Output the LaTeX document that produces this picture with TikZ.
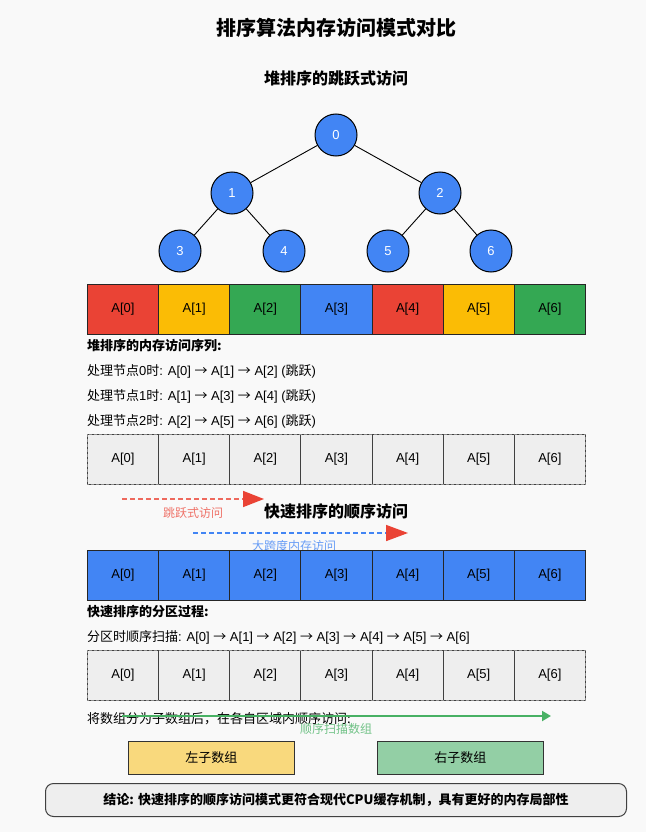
\documentclass[tikz,border=0pt]{standalone}
\usepackage{fontspec}
\setmainfont{Noto Sans CJK SC}
\newfontfamily\lat{Liberation Sans}
\usetikzlibrary{arrows.meta}
\definecolor{bg}{HTML}{F9F9F9}
\definecolor{gred}{HTML}{EA4335}
\definecolor{gyel}{HTML}{FBBC05}
\definecolor{ggrn}{HTML}{34A853}
\definecolor{gblu}{HTML}{4285F4}
\definecolor{cellgray}{HTML}{EEEEEE}
\definecolor{lyel}{HTML}{F9D97D}
\definecolor{lgrn}{HTML}{93CFA5}
\newcommand{\fs}[1]{\fontsize{#1}{#1}\selectfont}
\newcommand{\rarr}{{\rmfamily →}}
\tikzset{
  treenode/.style={circle,draw=black,line width=1pt,fill=gblu,minimum size=42pt,inner sep=0pt,text=white,font=\lat\fs{13}},
  treeedge/.style={draw=black,line width=0.9pt},
  cellbox/.style={draw=black!85,line width=0.9pt,minimum width=71.14pt,minimum height=50pt,inner sep=0pt,font=\lat\fs{13},anchor=north west},
  graycell/.style={cellbox,fill=cellgray,draw=black!75},
  title/.style={font=\bfseries\fs{20}},
  subtitle/.style={font=\bfseries\fs{16}},
  bodytext/.style={font=\fs{13},anchor=west,inner sep=0pt},
  boldtext/.style={font=\bfseries\fs{13},anchor=west,inner sep=0pt},
  smalllabel/.style={font=\fs{12},inner sep=0pt},
  subbox/.style={draw=black!80,line width=0.9pt,minimum width=166pt,minimum height=33pt,inner sep=0pt,font=\fs{13},anchor=north west},
}
\begin{document}
\begin{tikzpicture}[x=1pt,y=-1pt]
\fill[bg] (0,0) rectangle (646,832);
\useasboundingbox (0,0) rectangle (646,832);

\node[title] (t) at (336,28) {排序算法内存访问模式对比};
\node[subtitle] (st1) at (336,78) {堆排序的跳跃式访问};

% tree
\node[treenode] (n0) at (336,135) {0};
\node[treenode] (n1) at (232,193) {1};
\node[treenode] (n2) at (440,193) {2};
\node[treenode] (n3) at (180,251) {3};
\node[treenode] (n4) at (284,251) {4};
\node[treenode] (n5) at (388,251) {5};
\node[treenode] (n6) at (491,251) {6};
\draw[treeedge] (n0) -- (n1);
\draw[treeedge] (n0) -- (n2);
\draw[treeedge] (n1) -- (n3);
\draw[treeedge] (n1) -- (n4);
\draw[treeedge] (n2) -- (n5);
\draw[treeedge] (n2) -- (n6);

% colored array
\foreach \i/\c in {0/gred,1/gyel,2/ggrn,3/gblu,4/gred,5/gyel,6/ggrn}{
  \node[cellbox,fill=\c] (ca\i) at ({87+71.14*\i},284) {A[\i]};
}

\node[boldtext] (h1) at (87,346) {堆排序的内存访问序列:};
\node[bodytext] (l1) at (87,371) {处理节点{\lat 0}时{\lat: A[0] \rarr{} A[1] \rarr{} A[2] (}跳跃{\lat )}};
\node[bodytext] (l2) at (87,396) {处理节点{\lat 1}时{\lat: A[1] \rarr{} A[3] \rarr{} A[4] (}跳跃{\lat )}};
\node[bodytext] (l3) at (87,421) {处理节点{\lat 2}时{\lat: A[2] \rarr{} A[5] \rarr{} A[6] (}跳跃{\lat )}};

% gray array 1
\foreach \i in {0,...,6}{
  \node[graycell] (ga\i) at ({87+71.14*\i},434) {A[\i]};
}
\draw[black!45,line width=1pt,dash pattern=on 3pt off 2pt] (ga0.north west) rectangle (ga6.south east);

% red dashed arrow
\coordinate (ra1) at (122,499);
\coordinate (ra2) at (264,499);
\draw[gred!80,line width=1.6pt,dash pattern=on 5pt off 3pt,-{Triangle[length=21pt,width=16pt,fill=gred,color=gred]}] (ra1) -- (ra2);
\node[smalllabel,text=gred!75] (ral) at (193,513) {跳跃式访问};

\node[subtitle] (st2) at (336,511) {快速排序的顺序访问};

% blue dashed arrow
\coordinate (ba1) at (193,533);
\coordinate (ba2) at (408,533);
\draw[gblu,line width=1.6pt,dash pattern=on 5pt off 3pt,-{Triangle[length=22pt,width=16pt,fill=gred,color=gred]}] (ba1) -- (ba2);
\node[smalllabel,text=gblu!80] (bal) at (294,546) {大跨度内存访问};

% blue array
\foreach \i in {0,...,6}{
  \node[cellbox,fill=gblu] (ba\i) at ({87+71.14*\i},550) {A[\i]};
}

\node[boldtext] (h2) at (87,612) {快速排序的分区过程:};
\node[bodytext] (l4) at (87,637) {分区时顺序扫描{\lat: A[0] \rarr{} A[1] \rarr{} A[2] \rarr{} A[3] \rarr{} A[4] \rarr{} A[5] \rarr{} A[6]}};

% gray array 2
\foreach \i in {0,...,6}{
  \node[graycell] (gb\i) at ({87+71.14*\i},650) {A[\i]};
}
\draw[black!45,line width=1pt,dash pattern=on 3pt off 2pt] (gb0.north west) rectangle (gb6.south east);

\node[bodytext] (l5) at (87,719) {将数组分为子数组后，在各自区域内顺序访问:};

% green arrow
\coordinate (ga1) at (122,716);
\coordinate (ga2) at (551,716);
\draw[ggrn!90,line width=2pt,-{Triangle[length=9pt,width=10pt]}] (ga1) -- (ga2);
\node[smalllabel,text=ggrn!70] (gal) at (336,729) {顺序扫描数组};

% sub arrays
\node[subbox,fill=lyel] (left) at (128,741) {左子数组};
\node[subbox,fill=lgrn] (right) at (377,741) {右子数组};

% conclusion
\node[draw=black!75,line width=1pt,fill=cellgray,rounded corners=8pt,minimum width=581pt,minimum height=33pt,inner sep=0pt,anchor=north west,font=\bfseries\fs{13}] (concl) at (45,783) {结论: 快速排序的顺序访问模式更符合现代CPU缓存机制，具有更好的内存局部性};
\end{tikzpicture}
\end{document}
